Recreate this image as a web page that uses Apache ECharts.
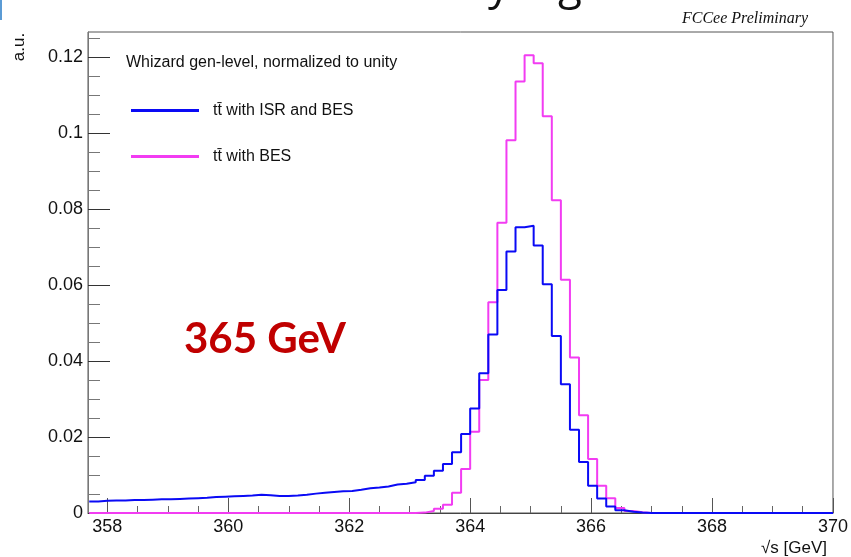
<!DOCTYPE html>
<html>
<head>
<meta charset="utf-8">
<script src="https://cdn.jsdelivr.net/npm/echarts@6/dist/echarts.min.js"></script>
<style>html,body{margin:0;padding:0;background:#fff;}#c{width:851px;height:557px;}</style>
</head>
<body>
<div id="c"></div>
<script>
// ---- data ----
const binStart = 357.7;     // GeV, low edge of first bin
const binWidth = 0.15;      // GeV
const xTickLabels = [358, 360, 362, 364, 366, 368, 370];
const yTickLabels = [0, 0.02, 0.04, 0.06, 0.08, 0.1, 0.12];
const seriesNames = ['tt\u0304 with ISR and BES', 'tt\u0304 with BES'];
// tt with ISR and BES (blue)
const isrBes = [
  0.0030, 0.0032, 0.0033, 0.0033, 0.0034, 0.0034, 0.0035, 0.0036, 0.0036, 0.0037,
  0.0038, 0.0039, 0.0040, 0.0042, 0.0043, 0.0044, 0.0045, 0.0046, 0.0048, 0.0047,
  0.0045, 0.0045, 0.0046, 0.0048, 0.0051, 0.0053, 0.0055, 0.0057, 0.0058, 0.0061,
  0.0065, 0.0067, 0.0070, 0.0075, 0.0077, 0.0081, 0.0087, 0.0098, 0.0111, 0.0129,
  0.0160, 0.0208, 0.0275, 0.0368, 0.0470, 0.0587, 0.0688, 0.0752, 0.0756, 0.0704,
  0.0602, 0.0466, 0.0339, 0.0219, 0.0134, 0.0072, 0.0038, 0.0017, 0.0007, 0.0003,
  0.0001, 0, 0, 0, 0, 0, 0, 0, 0, 0,
  0, 0, 0, 0, 0, 0, 0, 0, 0, 0,
  0, 0
];
// tt with BES only (magenta)
const besOnly = [
  0, 0, 0, 0, 0, 0, 0, 0, 0, 0,
  0, 0, 0, 0, 0, 0, 0, 0, 0, 0,
  0, 0, 0, 0, 0, 0, 0, 0, 0, 0,
  0, 0, 0, 0, 0, 0, 0.0001, 0.0005, 0.0011, 0.0022,
  0.0053, 0.0116, 0.0214, 0.0350, 0.0555, 0.0764, 0.0981, 0.1136, 0.1205, 0.1184,
  0.1044, 0.0823, 0.0614, 0.0409, 0.0257, 0.0142, 0.0072, 0.0039, 0.0013, 0.0005,
  0.0002, 0, 0, 0, 0, 0, 0, 0, 0, 0,
  0, 0, 0, 0, 0, 0, 0, 0, 0, 0,
  0, 0
];

// ---- helpers ----
function histPoints(vals) {
  const pts = vals.map((v, i) => [binStart + i * binWidth, v]);
  pts.push([binStart + vals.length * binWidth, vals[vals.length - 1]]);
  return pts;
}
function minors(majors, sub) {
  const out = [];
  const step = (majors[1] - majors[0]) / sub;
  for (let k = 0; k < majors.length; k++) {
    for (let j = 1; j < sub; j++) out.push(+(majors[k] + j * step).toFixed(6));
  }
  return out;
}
const xMinor = minors(xTickLabels, 4).filter(v => v < 370);
const yMinor = minors(yTickLabels, 4).filter(v => v < 0.1266);

const font = '"Liberation Sans", Arial, Helvetica, sans-serif';
const chart = echarts.init(document.getElementById('c'), null, {renderer: 'canvas'});
chart.setOption({
  animation: false,
  backgroundColor: '#ffffff',
  grid: {left: 88, top: 32, right: 18, bottom: 44, show: true, borderColor: '#555', borderWidth: 1, backgroundColor: 'transparent'},
  xAxis: [{
    type: 'value', min: 357.68, max: 370, position: 'bottom',
    axisLine: {show: true, lineStyle: {color: '#444', width: 1}},
    axisTick: {show: true, inside: true, length: 15, customValues: xTickLabels, lineStyle: {color: '#555'}},
    axisLabel: {show: true, customValues: xTickLabels, margin: 5, fontSize: 18, color: '#111', fontFamily: font},
    splitLine: {show: false}
  }, {
    type: 'value', min: 357.68, max: 370, position: 'bottom', offset: 0,
    axisLine: {show: false},
    axisTick: {show: true, inside: true, length: 7, customValues: xMinor, lineStyle: {color: '#666'}},
    axisLabel: {show: false},
    splitLine: {show: false}
  }],
  yAxis: [{
    type: 'value', min: 0, max: 0.1266, position: 'left',
    axisLine: {show: true, lineStyle: {color: '#777', width: 1}},
    axisTick: {show: true, inside: true, length: 22, customValues: yTickLabels, lineStyle: {color: '#333'}},
    axisLabel: {show: true, customValues: yTickLabels, margin: 5, fontSize: 18, color: '#111', fontFamily: font},
    splitLine: {show: false}
  }, {
    type: 'value', min: 0, max: 0.1266, position: 'left', offset: 0,
    axisLine: {show: false},
    axisTick: {show: true, inside: true, length: 12, customValues: yMinor, lineStyle: {color: '#777'}},
    axisLabel: {show: false},
    splitLine: {show: false}
  }],
  legend: {
    orient: 'vertical', left: 131, top: 98, padding: 0, itemWidth: 68, itemHeight: 3, itemGap: 21,
    icon: 'rect', data: seriesNames,
    textStyle: {fontSize: 16, fontFamily: font, color: '#111', lineHeight: 20, padding: [5, 0, 0, 9]}
  },
  series: [{
    name: seriesNames[1], type: 'line', step: 'end', data: histPoints(besOnly),
    xAxisIndex: 0, yAxisIndex: 0, showSymbol: false, symbol: 'none',
    lineStyle: {color: '#f23cf2', width: 2}, itemStyle: {color: '#f23cf2'}, z: 2
  }, {
    name: seriesNames[0], type: 'line', step: 'end', data: histPoints(isrBes),
    xAxisIndex: 0, yAxisIndex: 0, showSymbol: false, symbol: 'none',
    lineStyle: {color: '#0a0af5', width: 2}, itemStyle: {color: '#0a0af5'}, z: 3
  }],
  graphic: [
    {type: 'text', x: 126, y: 63, style: {text: 'Whizard gen-level, normalized to unity', font: '16px ' + font, fill: '#111', align: 'left', verticalAlign: 'middle'}},
    {type: 'text', x: 808, y: 19, style: {text: 'FCCee Preliminary', font: 'italic 16px "Liberation Serif", "Times New Roman", serif', fill: '#111', align: 'right', verticalAlign: 'middle'}},
    {type: 'text', x: 184, y: 339, style: {text: '365 GeV', font: 'bold 42px Lato, "Open Sans", sans-serif', fill: '#c00000', align: 'left', verticalAlign: 'middle'}},
    {type: 'text', x: 19, y: 47, rotation: Math.PI / 2, style: {text: 'a.u.', font: '17px ' + font, fill: '#111', align: 'center', verticalAlign: 'middle'}},
    {type: 'text', x: 827, y: 548, style: {text: '\u221As [GeV]', font: '17px ' + font, fill: '#111', align: 'right', verticalAlign: 'middle'}},
    {type: 'text', x: 488, y: 8, style: {text: 'y', font: '44px "Open Sans", sans-serif', fill: '#111', align: 'left', verticalAlign: 'bottom'}},
    {type: 'text', x: 558, y: 8, style: {text: 'g', font: '44px "Open Sans", sans-serif', fill: '#111', align: 'left', verticalAlign: 'bottom'}},
    {type: 'rect', shape: {x: 0, y: 0, width: 2, height: 20}, style: {fill: '#5b9bd5'}}
  ]
});
</script>
</body>
</html>
